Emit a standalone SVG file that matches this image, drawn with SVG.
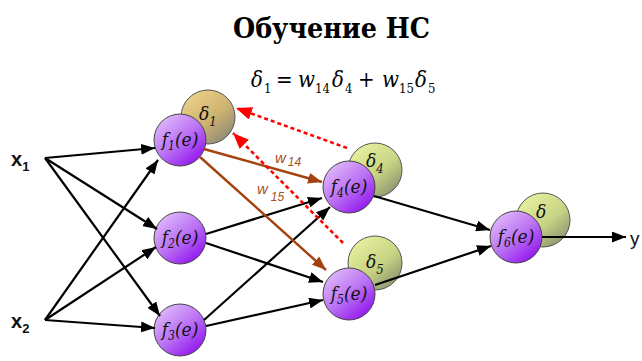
<svg xmlns="http://www.w3.org/2000/svg" width="642" height="361" viewBox="0 0 642 361">
<style>
.f{fill:url(#gp);stroke:#444;stroke-width:1}
.dt{fill:url(#gt);stroke:#555;stroke-width:1}
.dg{fill:url(#gg);stroke:#555;stroke-width:1}
.serif{font-family:"DejaVu Serif Condensed","DejaVu Serif",serif}
.lbl{font-family:"DejaVu Serif Condensed","DejaVu Serif",serif;font-style:italic;font-size:19px;fill:#111}
.bl{stroke:#000;stroke-width:2.2;fill:none;marker-end:url(#ab)}
.br{stroke:#A4410E;stroke-width:2.4;fill:none;marker-end:url(#abr)}
.rd{stroke:#F00;stroke-width:2.6;fill:none;stroke-dasharray:4 3;marker-end:url(#ar)}
.w{font-family:"Liberation Sans",Arial,sans-serif;font-style:italic;fill:#A4521E}
.x{font-family:"Liberation Sans",Arial,sans-serif;font-weight:bold;fill:#111}
</style>
<defs>
<linearGradient id="gp" x1="0.15" y1="0.1" x2="0.85" y2="0.95"><stop offset="0" stop-color="#DDB6FA"/><stop offset="0.5" stop-color="#BA70F4"/><stop offset="1" stop-color="#9010EE"/></linearGradient>
<linearGradient id="gt" x1="0.15" y1="0.1" x2="0.85" y2="0.95"><stop offset="0" stop-color="#EBD088"/><stop offset="0.55" stop-color="#CDB270"/><stop offset="1" stop-color="#8A8778"/></linearGradient>
<linearGradient id="gg" x1="0.15" y1="0.1" x2="0.85" y2="0.95"><stop offset="0" stop-color="#E6F09E"/><stop offset="0.55" stop-color="#C8D484"/><stop offset="1" stop-color="#8A9270"/></linearGradient>
<marker id="ab" markerUnits="userSpaceOnUse" markerWidth="14" markerHeight="11" refX="14" refY="5.5" orient="auto"><path d="M0,0 L14,5.5 L0,11 z" fill="#000"/></marker>
<marker id="abr" markerUnits="userSpaceOnUse" markerWidth="14" markerHeight="11" refX="14" refY="5.5" orient="auto"><path d="M0,0 L14,5.5 L0,11 z" fill="#A4410E"/></marker>
<marker id="ar" markerUnits="userSpaceOnUse" markerWidth="16" markerHeight="13" refX="16" refY="6.5" orient="auto"><path d="M0,0 L16,6.5 L0,13 z" fill="#F00"/></marker>
</defs>
<rect width="642" height="361" fill="#fff"/>
<text class="serif" x="233" y="38" font-weight="bold" font-size="28" fill="#000" textLength="197" lengthAdjust="spacingAndGlyphs">Обучение НС</text>
<text class="serif" font-size="22" fill="#000" y="87"><tspan x="251" font-style="italic">δ</tspan><tspan x="264" y="93" font-size="13">1</tspan><tspan x="276" y="87">=</tspan><tspan x="298" font-style="italic">w</tspan><tspan x="315" y="93" font-size="13">14</tspan><tspan x="332" y="87" font-style="italic">δ</tspan><tspan x="345" y="93" font-size="13">4</tspan><tspan x="358" y="87">+</tspan><tspan x="382" font-style="italic">w</tspan><tspan x="399" y="93" font-size="13">15</tspan><tspan x="415" y="87" font-style="italic">δ</tspan><tspan x="428" y="93" font-size="13">5</tspan></text>
<g id="x1"><text class="x" x="11" y="166" font-size="20">x<tspan font-size="13" dy="5">1</tspan></text></g>
<g id="x2"><text class="x" x="11" y="328" font-size="20">x<tspan font-size="13" dy="5">2</tspan></text></g>
<g id="n1"><circle class="dt" cx="208" cy="117" r="27"/><text class="lbl" x="199" y="120" font-size="21">δ<tspan font-size="13" dy="6">1</tspan></text><circle class="f" cx="180" cy="140" r="26"/><text class="lbl" x="180" y="146" text-anchor="middle">f<tspan font-size="12" dy="4">1</tspan><tspan dy="-4">(e)</tspan></text></g>
<g id="n2"><circle class="f" cx="180" cy="238" r="26"/><text class="lbl" x="180" y="244" text-anchor="middle">f<tspan font-size="12" dy="4">2</tspan><tspan dy="-4">(e)</tspan></text></g>
<g id="n3"><circle class="f" cx="180" cy="330" r="26"/><text class="lbl" x="180" y="336" text-anchor="middle">f<tspan font-size="12" dy="4">3</tspan><tspan dy="-4">(e)</tspan></text></g>
<g id="n4"><circle class="dg" cx="375" cy="170" r="27"/><text class="lbl" x="366" y="167" font-size="21">δ<tspan font-size="13" dy="6">4</tspan></text><circle class="f" cx="349" cy="187" r="26"/><text class="lbl" x="349" y="193" text-anchor="middle">f<tspan font-size="12" dy="4">4</tspan><tspan dy="-4">(e)</tspan></text></g>
<g id="n5"><circle class="dg" cx="375" cy="263" r="27"/><text class="lbl" x="366" y="268" font-size="21">δ<tspan font-size="13" dy="6">5</tspan></text><circle class="f" cx="349" cy="294" r="26"/><text class="lbl" x="349" y="300" text-anchor="middle">f<tspan font-size="12" dy="4">5</tspan><tspan dy="-4">(e)</tspan></text></g>
<g id="n6"><circle class="dg" cx="543" cy="220" r="27"/><text class="lbl" x="536" y="218" font-size="21">δ</text><circle class="f" cx="516" cy="237" r="26"/><text class="lbl" x="516" y="243" text-anchor="middle">f<tspan font-size="12" dy="4">6</tspan><tspan dy="-4">(e)</tspan></text></g>
<g id="y"><text x="630" y="245" font-family="Liberation Sans,Arial,sans-serif" font-size="19" fill="#111">y</text></g>
<g id="connectors">
<line class="bl" x1="45" y1="158" x2="155" y2="148"/>
<line class="bl" x1="45" y1="158" x2="157" y2="229"/>
<line class="bl" x1="45" y1="158" x2="160" y2="316"/>
<line class="bl" x1="45" y1="320" x2="158" y2="160"/>
<line class="bl" x1="45" y1="320" x2="156" y2="247"/>
<line class="bl" x1="45" y1="320" x2="155" y2="328"/>
<line class="bl" x1="206" y1="234" x2="322" y2="198"/>
<line class="bl" x1="206" y1="243" x2="323" y2="282"/>
<line class="bl" x1="204" y1="320" x2="330" y2="207"/>
<line class="bl" x1="206" y1="326" x2="323" y2="300"/>
<line class="bl" x1="374" y1="196" x2="490" y2="230"/>
<line class="bl" x1="375" y1="285" x2="491" y2="246"/>
<line class="bl" x1="542" y1="237" x2="626" y2="237"/>
<line class="br" x1="204" y1="149" x2="322" y2="182"/>
<line class="br" x1="200" y1="157" x2="326" y2="270"/>
<line class="rd" x1="347" y1="148" x2="236" y2="108"/>
<line class="rd" x1="343" y1="243" x2="233" y2="133"/>
<text class="w" x="275" y="163" font-size="15">w<tspan font-size="12" dx="2" dy="3">14</tspan></text>
<text class="w" x="257" y="194" font-size="15">w<tspan font-size="12" dx="3" dy="7">15</tspan></text>
</g>
</svg>
